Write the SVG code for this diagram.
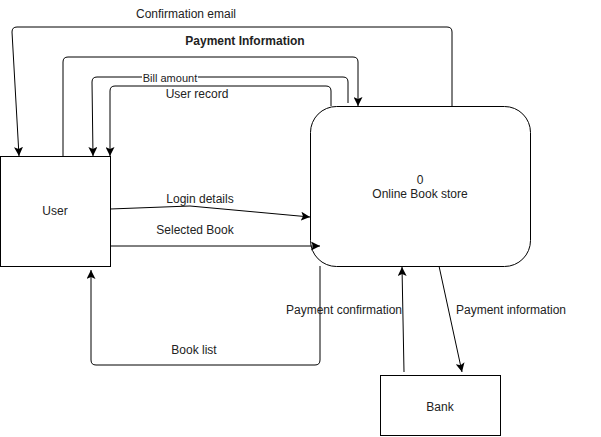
<svg xmlns="http://www.w3.org/2000/svg" width="601" height="437" viewBox="0 0 601 437">
<style>
.n{fill:#fff;stroke:#000;stroke-width:1}
.t{font-family:"Liberation Sans",Arial,sans-serif;font-size:12px;fill:#222;text-anchor:middle}
.c{fill:none;stroke:#000;stroke-width:1;marker-end:url(#a)}
.cn{fill:none;stroke:#000;stroke-width:1}
</style>
<defs>
<marker id="a" markerUnits="userSpaceOnUse" markerWidth="10" markerHeight="9" viewBox="0 0 10 9" refX="9" refY="4.5" orient="auto">
<path d="M0,0 L9,4.5 L0,9 L2,4.5 z" fill="#000"/>
</marker>
</defs>
<rect width="601" height="437" fill="#fff"/>
<g id="connectors">
<path id="e-confirmation" class="c" d="M452,106 V32 Q452,27 447,27 H17 Q12,27 12,32 L19,156"/>
<path id="e-paymentinfo" class="c" d="M63,156 V62 Q63,57 68,57 H353 Q358,57 358,62 V106"/>
<path id="e-bill" class="c" d="M348,103 V82 Q348,77 343,77 H97 Q92,77 92,82 L93,156"/>
<path id="e-userrecord" class="c" d="M331,106 V91 Q331,86 326,86 H115 Q110,86 110,91 V156"/>
<path id="e-login" class="c" d="M110,209 L190,206 L310,217"/>
<path id="e-selected" class="c" d="M110,246 H320"/>
<path id="e-booklist" class="c" d="M320,266 V360 Q320,365 315,365 H96 Q91,365 91,360 V270"/>
<path id="e-payconf" class="c" d="M404,372 L402,267"/>
<path id="e-payinfo2" class="c" d="M439,266 L462,372"/>
<text class="t" x="186" y="18">Confirmation email</text>
<text class="t" x="245" y="45" font-weight="bold">Payment Information</text>
<rect x="142" y="72" width="56" height="12" fill="#fff"/>
<text class="t" x="170" y="82" style="font-size:11px">Bill amount</text>
<text class="t" x="197" y="98">User record</text>
<text class="t" x="200" y="203">Login details</text>
<text class="t" x="195" y="234">Selected Book</text>
<text class="t" x="194" y="354">Book list</text>
<text class="t" x="344" y="314">Payment confirmation</text>
<text class="t" x="511" y="314">Payment information</text>
</g>
<g id="user">
<rect class="n" x="0.5" y="156.5" width="110" height="110"/>
<text class="t" x="55" y="215">User</text>
</g>
<g id="store">
<rect class="n" x="310.5" y="106.5" width="220" height="160" rx="26" ry="26" fill-opacity="0"/>
<text class="t" x="420" y="184">0</text>
<text class="t" x="420" y="198">Online Book store</text>
</g>
<g id="bank">
<rect class="n" x="380.5" y="375.5" width="120" height="60"/>
<text class="t" x="440" y="411">Bank</text>
</g>
</svg>
